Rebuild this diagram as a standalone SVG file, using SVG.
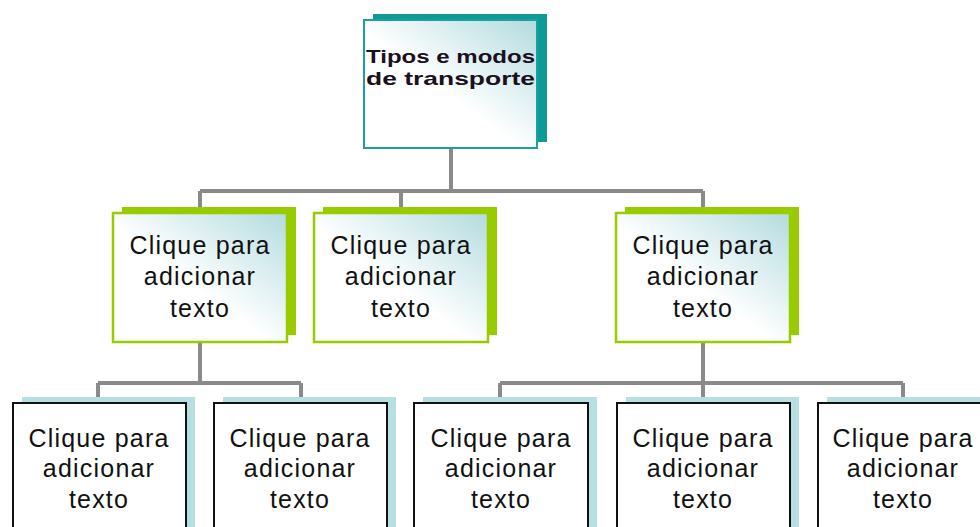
<svg xmlns="http://www.w3.org/2000/svg" width="980" height="527" viewBox="0 0 980 527">
  <defs>
    <linearGradient id="grad" x1="0" y1="1" x2="1" y2="0">
      <stop offset="0" stop-color="#ffffff"/>
      <stop offset="0.45" stop-color="#ffffff"/>
      <stop offset="1" stop-color="#b3dbdf"/>
    </linearGradient>
    <style>
      .conn { stroke: #8a8a8a; stroke-width: 4; fill: none; }
      .sh-top { fill: #0e9b95; }
      .box-top { fill: url(#grad); stroke: #1d9f9f; stroke-width: 2; }
      .sh-l2 { fill: #99cc00; }
      .box-l2 { fill: url(#grad); stroke: #99cc00; stroke-width: 2.5; }
      .sh-l3 { fill: #b7dfe2; }
      .box-l3 { fill: #ffffff; stroke: #111111; stroke-width: 2; }
      .t { font-family: "Liberation Sans", Arial, sans-serif; font-size: 25px; letter-spacing: 1.2px; fill: #111111; text-anchor: middle; }
      .tb { font-family: "Liberation Sans", Arial, sans-serif; font-size: 19px; font-weight: bold; fill: #1a1020; }
    </style>
  </defs>
  <rect width="980" height="527" fill="#ffffff"/>

  <g id="connectors">
    <path class="conn" d="M451 148 V191 M200 191 H703 M200 191 V210 M401 191 V210 M703 191 V210"/>
    <path class="conn" d="M200 342 V383 M98 383 H301 M98 383 V400 M301 383 V400"/>
    <path class="conn" d="M703 342 V383 M500 383 H903 M500 383 V400 M703 383 V400 M903 383 V400"/>
  </g>

  <g id="node-top">
    <rect class="sh-top" x="373" y="14" width="174" height="128"/>
    <rect class="box-top" x="364" y="20" width="173" height="128"/>
    <text class="tb" x="366" y="63" textLength="169" lengthAdjust="spacingAndGlyphs">Tipos e modos</text>
    <text class="tb" x="366" y="85" textLength="169" lengthAdjust="spacingAndGlyphs">de transporte</text>
  </g>

  <g id="node-l2-1">
    <rect class="sh-l2" x="122" y="207" width="174" height="128"/>
    <rect class="box-l2" x="113" y="213" width="174" height="129"/>
    <text class="t" x="200" y="254">Clique para</text>
    <text class="t" x="200" y="285">adicionar</text>
    <text class="t" x="200" y="317">texto</text>
  </g>
  <g id="node-l2-2">
    <rect class="sh-l2" x="323" y="207" width="174" height="128"/>
    <rect class="box-l2" x="314" y="213" width="174" height="129"/>
    <text class="t" x="401" y="254">Clique para</text>
    <text class="t" x="401" y="285">adicionar</text>
    <text class="t" x="401" y="317">texto</text>
  </g>
  <g id="node-l2-3">
    <rect class="sh-l2" x="625" y="207" width="174" height="128"/>
    <rect class="box-l2" x="616" y="213" width="174" height="129"/>
    <text class="t" x="703" y="254">Clique para</text>
    <text class="t" x="703" y="285">adicionar</text>
    <text class="t" x="703" y="317">texto</text>
  </g>

  <g id="node-l3-1">
    <rect class="sh-l3" x="22" y="397" width="173" height="140"/>
    <rect class="box-l3" x="13" y="403" width="173" height="140"/>
    <text class="t" x="99" y="447">Clique para</text>
    <text class="t" x="99" y="477">adicionar</text>
    <text class="t" x="99" y="508">texto</text>
  </g>
  <g id="node-l3-2">
    <rect class="sh-l3" x="223" y="397" width="173" height="140"/>
    <rect class="box-l3" x="214" y="403" width="173" height="140"/>
    <text class="t" x="300" y="447">Clique para</text>
    <text class="t" x="300" y="477">adicionar</text>
    <text class="t" x="300" y="508">texto</text>
  </g>
  <g id="node-l3-3">
    <rect class="sh-l3" x="423" y="397" width="174" height="140"/>
    <rect class="box-l3" x="414" y="403" width="174" height="140"/>
    <text class="t" x="501" y="447">Clique para</text>
    <text class="t" x="501" y="477">adicionar</text>
    <text class="t" x="501" y="508">texto</text>
  </g>
  <g id="node-l3-4">
    <rect class="sh-l3" x="626" y="397" width="173" height="140"/>
    <rect class="box-l3" x="617" y="403" width="173" height="140"/>
    <text class="t" x="703" y="447">Clique para</text>
    <text class="t" x="703" y="477">adicionar</text>
    <text class="t" x="703" y="508">texto</text>
  </g>
  <g id="node-l3-5">
    <rect class="sh-l3" x="827" y="397" width="173" height="140"/>
    <rect class="box-l3" x="818" y="403" width="173" height="140"/>
    <text class="t" x="903" y="447">Clique para</text>
    <text class="t" x="903" y="477">adicionar</text>
    <text class="t" x="903" y="508">texto</text>
  </g>
</svg>
